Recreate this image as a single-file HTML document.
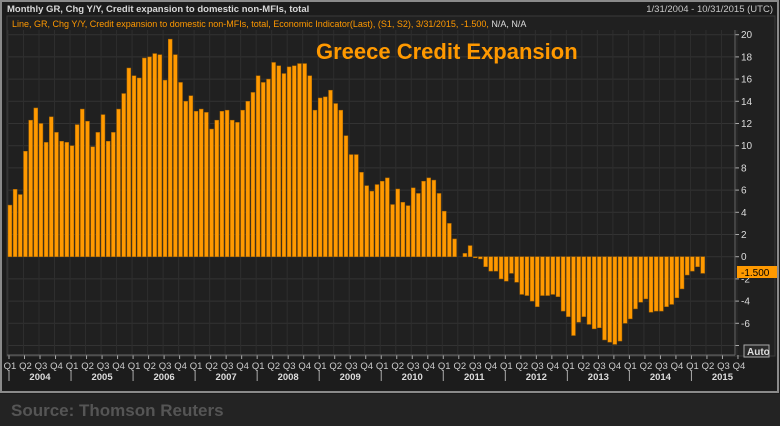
<!DOCTYPE html>
<html><head><meta charset="utf-8"><style>
html,body{margin:0;padding:0;background:#232323;width:780px;height:426px;overflow:hidden}
svg{display:block;font-family:"Liberation Sans",sans-serif}
</style></head><body>
<svg id="c" width="780" height="426" viewBox="0 0 780 426" xmlns="http://www.w3.org/2000/svg">
<rect x="0" y="0" width="780" height="426" fill="#232323"/>
<rect x="0" y="0" width="780" height="394" fill="#1c1c1c"/>
<rect x="1" y="1" width="777" height="391" fill="none" stroke="#8a8a8a" stroke-width="2"/>
<text x="7" y="12" font-size="9.5" font-weight="bold" fill="#d8d8d8">Monthly GR, Chg Y/Y, Credit expansion to domestic non-MFIs, total</text>
<text x="773" y="12" font-size="9.5" fill="#c8c8c8" text-anchor="end">1/31/2004 - 10/31/2015 (UTC)</text>
<rect x="7" y="16" width="768" height="340" fill="#202020" stroke="#3a3a3a"/>
<text x="12" y="27" font-size="9" fill="#ff9900">Line, GR, Chg Y/Y, Credit expansion to domestic non-MFIs, total, Economic Indicator(Last), (S1, S2), 3/31/2015, -1.500, <tspan fill="#ddd">N/A, N/A</tspan></text>
<g id="grid"></g>
<g id="bars"></g>
<g id="axes"></g>
<text x="316" y="59" font-size="22" font-weight="bold" fill="#ff9900">Greece Credit Expansion</text>
<rect x="737" y="266" width="40" height="12" fill="#ff9900"/>
<text x="741" y="276" font-size="10" fill="#000">-1.500</text>
<rect x="744" y="345" width="25" height="12" fill="#2a2a2a" stroke="#aaa"/>
<text x="747" y="355" font-size="10" font-weight="bold" fill="#ddd">Auto</text>
<text x="11" y="416" font-size="17" font-weight="bold" fill="#555">Source: Thomson Reuters</text>
</svg>
<script>
var v=[4.65,6.07,5.6,9.5,12.3,13.4,12.0,10.3,12.6,11.2,10.4,10.3,
10.0,11.9,13.3,12.2,9.9,11.2,12.8,10.4,11.2,13.3,14.7,17.0,
16.3,16.1,17.9,18.0,18.3,18.2,15.9,19.6,18.2,15.7,14.0,14.5,
13.1,13.3,13.0,11.5,12.3,13.1,13.2,12.3,12.1,
13.2,14.0,14.8,16.3,15.7,16.0,17.5,17.2,16.5,17.1,17.2,17.4,17.4,16.3,13.2,14.3,14.4,15.0,13.8,13.2,10.9,9.2,9.2,7.6,6.4,5.9,6.5,6.8,7.1,4.7,6.1,4.9,4.6,6.2,5.7,6.8,7.1,6.9,5.7,4.1,3.0,1.6,
0,0.3,1.0,-0.1,-0.2,-0.9,-1.3,-1.3,-2.0,-2.2,-1.5,-2.3,-3.4,-3.5,-4.0,-4.5,-3.5,-3.5,-3.4,-3.6,-4.9,-5.4,-7.1,-5.9,-5.4,-6.1,-6.5,-6.4,-7.5,-7.7,-7.9,-7.6,
-6.0,-5.6,-4.7,-4.1,-3.8,-5.0,-4.9,-4.9,-4.5,-4.3,-3.7,-2.9,-1.65,-1.3,-0.9,-1.5];
var NS="http://www.w3.org/2000/svg";
function el(p,t,a,txt){var e=document.createElementNS(NS,t);for(var k in a)e.setAttribute(k,a[k]);if(txt!=null)e.textContent=txt;document.getElementById(p).appendChild(e);return e;}
var y0=256.7,s=11.1,x0=8,dx=5.17;
function Y(val){return y0-val*s;}
for(var g=-8;g<=20;g+=2){var y=Y(g);
 el("grid","line",{x1:7,x2:735,y1:y,y2:y,stroke:"#333","stroke-width":1});
 el("axes","line",{x1:735,x2:739,y1:y,y2:y,stroke:"#aaa"});
 if(g>-8) el("axes","text",{x:741,y:y+3.5,"font-size":10,fill:"#ddd"},String(g));}
for(var q=0;q<48;q++){var x=x0+q*3*dx;
 el("grid","line",{x1:x,x2:x,y1:30,y2:355,stroke:"#2e2e2e"});
 el("axes","line",{x1:x+1,x2:x+1,y1:355,y2:359,stroke:"#aaa"});
 el("axes","text",{x:x+2,y:369,"font-size":9.5,fill:"#ccc","text-anchor":"middle"},"Q"+(q%4+1));
 if(q%4==0){var yr=2004+q/4;
  el("axes","line",{x1:x+1,x2:x+1,y1:371,y2:381,stroke:"#aaa"});
  el("axes","text",{x:x+32,y:380,"font-size":9.5,"font-weight":"bold",fill:"#ddd","text-anchor":"middle"},String(yr));}}
el("axes","line",{x1:7,x2:735,y1:355,y2:355,stroke:"#666"});
el("axes","line",{x1:735,x2:735,y1:30,y2:355,stroke:"#666"});
for(var i=0;i<v.length;i++){if(v[i]==0)continue;var x=x0+i*dx,y=Y(v[i]);
 el("bars","rect",{x:x,y:Math.min(y,y0),width:3.9,height:Math.max(Math.abs(y-y0),1),fill:"#ff9900",stroke:"#a86500","stroke-width":0.5});}
</script>
</body></html>
